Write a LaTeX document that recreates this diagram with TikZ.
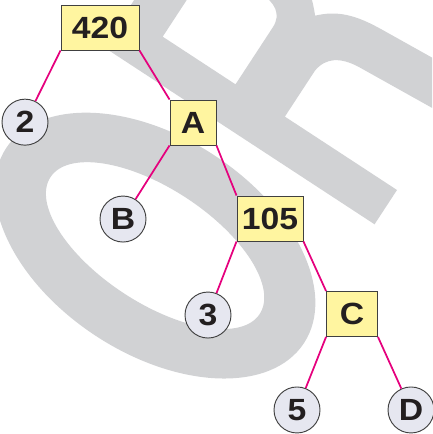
\documentclass[tikz,border=0pt]{standalone}
\usepackage{fontspec}
\usepackage{tikz}
\usetikzlibrary{positioning}

\newfontfamily\labelfont{Liberation Sans}[FakeStretch=1.1]

\definecolor{boxyellow}{RGB}{255,245,160}
\definecolor{leafgrey}{RGB}{230,231,240}
\definecolor{branchpink}{RGB}{229,0,125}
\definecolor{markgrey}{RGB}{209,210,212}
\definecolor{inkblack}{RGB}{35,31,32}

\begin{document}
\begin{tikzpicture}[
x=0.75pt, y=0.75pt,
box/.style={rectangle, draw=black!75, fill=boxyellow, line width=0.7pt, minimum width=#1, minimum height=33.75pt, inner sep=0pt, text=inkblack, font=\labelfont\bfseries\fontsize{23}{27}\selectfont},
box/.default=34.5pt,
leaf/.style={circle, draw=black!75, fill=leafgrey, line width=0.7pt, minimum size=34.5pt, inner sep=0pt, text=inkblack, font=\labelfont\bfseries\fontsize{23}{27}\selectfont},
branch/.style={draw=branchpink, line width=1.3pt},
on grid
]
\useasboundingbox (0,0) rectangle (432,-434);

%Watermark letters
\begin{scope}
\clip (0,0) rectangle (432,-434);
\begin{scope}[shift={(397,-190)}, rotate=56.8]
\fill[markgrey, even odd rule] (-179,172) ellipse [x radius=108, y radius=178]
                               (-179,172) ellipse [x radius=57, y radius=125];
\fill[markgrey, even odd rule] (-41,0) -- (-41,324) -- (75,324)
      .. controls (120,324) and (140,295) .. (140,252)
      .. controls (140,210) and (125,185) .. (101,164)
      .. controls (118,148) and (124,130) .. (126,100) -- (133,0) -- (89,0) -- (82,100)
      .. controls (80,120) and (72,132) .. (55,134) -- (0,134) -- (0,0) -- cycle
      (0,193) -- (68,193) .. controls (84,193) and (90,205) .. (90,222) -- (90,250)
      .. controls (90,272) and (80,280) .. (62,280) -- (0,280) -- cycle;
\end{scope}
\end{scope}

%Nodes
\node[box=58.5pt]  (n420)  at (100,-27.5)                          {420};
\node[leaf]        (n2)    [below left=71pt and 56.25pt of n420]   {2};
\node[box]         (nA)    [below right=71.25pt and 69.75pt of n420] {A};
\node[leaf]        (nB)    [below left=72.4pt and 52.5pt of nA]    {B};
\node[box=49.5pt]  (n105)  [below right=72pt and 57.75pt of nA]    {105};
\node[leaf]        (n3)    [below left=72.4pt and 46.5pt of n105]  {3};
\node[box=38.25pt] (nC)    [below right=71.6pt and 61.5pt of n105] {C};
\node[leaf]        (n5)    [below left=72pt and 41.25pt of nC]     {5};
\node[leaf]        (nD)    [below right=72pt and 44.25pt of nC]    {D};

%Lines
\draw[branch] (n420.south west) -- (n2);
\draw[branch] (n420.south east) -- (nA.north west);
\draw[branch] (nA.south west) -- (nB);
\draw[branch] (nA.south east) -- (n105.north west);
\draw[branch] (n105.south west) -- (n3);
\draw[branch] (n105.south east) -- (nC.north west);
\draw[branch] (nC.south west) -- (n5);
\draw[branch] (nC.south east) -- (nD);
\end{tikzpicture}
\end{document}
